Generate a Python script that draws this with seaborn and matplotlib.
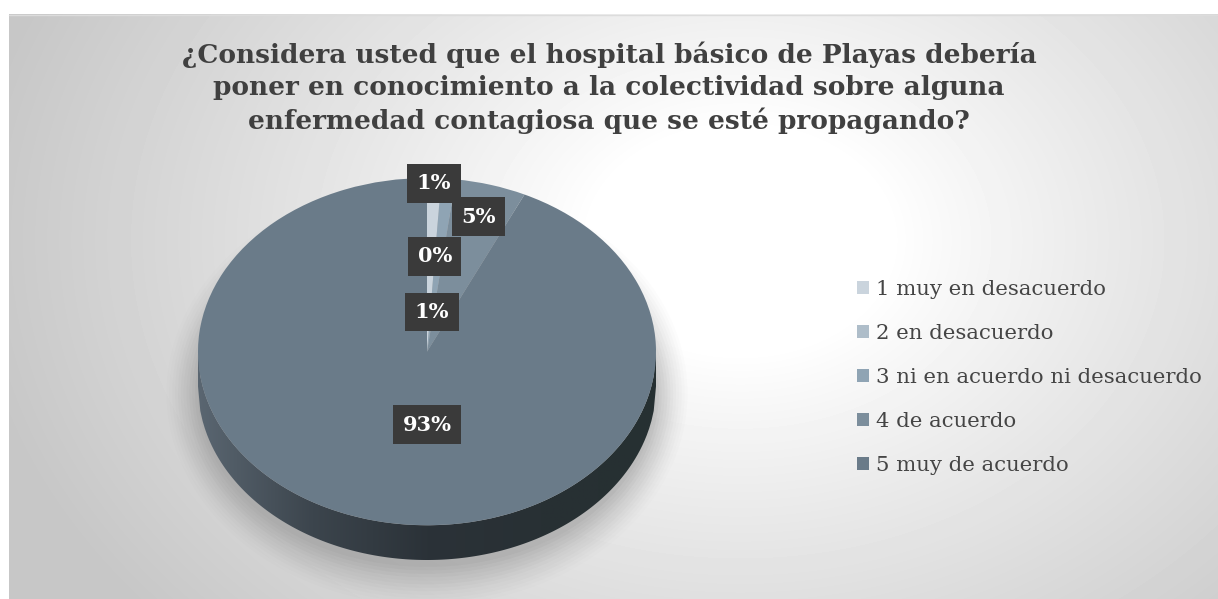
import numpy as np
import matplotlib
matplotlib.use('Agg')
import matplotlib.pyplot as plt
import seaborn as sns
from matplotlib.patches import Polygon, Patch, Ellipse
from matplotlib.colors import LinearSegmentedColormap

# datos del grafico
categorias = ['1 muy en desacuerdo', '2 en desacuerdo', '3 ni en acuerdo ni desacuerdo',
              '4 de acuerdo', '5 muy de acuerdo']
porcentajes = [1, 0, 1, 5, 93]
etiquetas = ['1%', '0%', '1%', '5%', '93%']
titulo = ('¿Considera usted que el hospital básico de Playas debería\n'
          'poner en conocimiento a la colectividad sobre alguna\n'
          'enfermedad contagiosa que se esté propagando?')

sns.set_theme(style='white')
plt.rcParams['font.family'] = ['DejaVu Serif']

colores = sns.blend_palette(['#cad4dd', '#aebdc9', '#8fa4b4', '#7c8e9c', '#6a7b89'], 5)

W, H = 1218, 599
fig = plt.figure(figsize=(W / 100, H / 100), dpi=100)

# fondo con degradado radial
bg = fig.add_axes([0, 0, 1, 1])
bg.set_xlim(0, W)
bg.set_ylim(H, 0)
bg.axis('off')
yy, xx = np.mgrid[14:H, 9:W]
d = np.hypot((xx - 740) / 1.0, (yy - 240) / 0.75)
g = 1 - 0.22 * np.clip((d - 150) / 620, 0, 1) ** 0.9
bg.imshow(g, cmap='gray', vmin=0, vmax=1, extent=(9, W, H, 14), aspect='auto')
bg.plot([9, W], [14.5, 14.5], color='#dcdcdc', lw=1)

# pastel en perspectiva
prof = 0.2
pax = fig.add_axes([198 / W, (H - 560) / H, 458 / W, 382 / H])

# sombra suave
for i, a in enumerate(np.linspace(0.06, 0.015, 12)):
    pax.add_patch(Ellipse((0, -prof - 0.04), 2.0 + 0.025 * i, 2.0 + 0.04 * i,
                          color='#707070', alpha=a, lw=0, clip_on=False))

# lado del cilindro
xs = np.linspace(-1, 1, 200)
borde = np.concatenate([np.c_[xs, -np.sqrt(1 - xs ** 2)],
                        np.c_[xs[::-1], -prof - np.sqrt(1 - xs[::-1] ** 2)]])
lado = Polygon(borde, closed=True, facecolor='none', edgecolor='none')
pax.add_patch(lado)
cmap_lado = LinearSegmentedColormap.from_list(
    'lado', ['#5a6671', '#3c454d', '#2b3238', '#283034', '#263032'])
pax.imshow(np.linspace(0, 1, 256)[None, :], cmap=cmap_lado, extent=(-1, 1, -1 - prof, 0),
           aspect='auto', clip_path=lado, zorder=2)

wedges, _ = pax.pie(porcentajes, colors=colores, startangle=90, counterclock=False,
                    radius=1, wedgeprops=dict(linewidth=0))
for w in wedges:
    w.set_zorder(3)

radios = [0.97, 0.55, 0.23, 0.81, 0.43]
for w, txt, r in zip(wedges, etiquetas, radios):
    ang = np.deg2rad((w.theta1 + w.theta2) / 2)
    x, y = r * np.cos(ang), r * np.sin(ang)
    if txt == '93%':
        x = 0
    pax.text(x, y, txt, ha='center', va='center', fontsize=15, fontweight='bold',
             color='white', zorder=5,
             bbox=dict(boxstyle='square,pad=0.45', facecolor='#3a3a3a', edgecolor='none'))

pax.set_aspect('auto')
pax.set_xlim(-1, 1)
pax.set_ylim(-1 - prof, 1)
pax.axis('off')

fig.text(0.5, 1 - 42 / H, titulo, ha='center', va='top', fontsize=19, fontweight='bold',
         color='#404040', linespacing=1.33)

handles = [Patch(facecolor=c, edgecolor='none') for c in colores]
fig.legend(handles, categorias, loc='upper left', bbox_to_anchor=(838 / W, 1 - 261 / H),
           frameon=False, fontsize=15.3, handlelength=0.56, handleheight=0.56,
           handletextpad=0.35, labelspacing=1.18, labelcolor='#454545')

fig.savefig('out.png', dpi=100)
